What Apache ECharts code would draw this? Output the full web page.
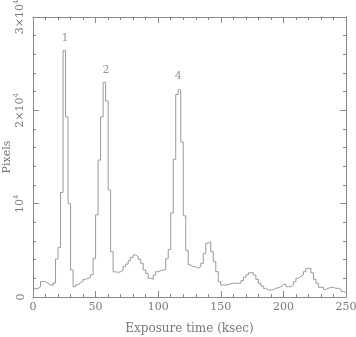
<!DOCTYPE html>
<html>
<head>
<meta charset="utf-8">
<script src="https://cdn.jsdelivr.net/npm/echarts@6/dist/echarts.min.js"></script>
<style>
  html, body { margin: 0; padding: 0; background: #fff; }
  #chart { width: 356px; height: 337px; }
</style>
</head>
<body>
<div id="chart"></div>
<script>
// histogram: 2 ksec bins starting at 0
const binWidth = 2
const counts = [
  900, 900, 1100, 1650, 1650, 1450, 1300, 1250, 1500, 4070,
  5320, 11200, 26400, 19300, 10000, 2890, 1100, 1320, 1530, 1680,
  1900, 2000, 2100, 2390, 4150, 8800, 14670, 19300, 23000, 21000,
  11460, 4850, 2700, 2640, 2710, 2890, 3250, 3530, 3890, 4250,
  4500, 4320, 4040, 3610, 2890, 2540, 2000, 1890, 2360, 2710,
  2820, 2890, 2950, 4100, 5100, 9000, 14750, 21700, 22200, 16600,
  8700, 5000, 3430, 3250, 3250, 3070, 3250, 3610, 4680, 5750,
  5920, 4850, 3780, 2710, 1640, 1290, 1290, 1350, 1400, 1470,
  1470, 1470, 1470, 1750, 2110, 2360, 2600, 2600, 2360, 1890,
  1470, 1180, 930, 750, 750, 800, 930, 1000, 1100, 1290,
  1390, 1100, 1100, 1290, 1640, 2000, 2200, 2360, 2710, 3070,
  3070, 2600, 1890, 1470, 1040, 1040, 820, 930, 1040, 1040,
  930, 930, 820, 600, 460
]
const peakNames = ['1', '2', '4']
const peakTimes = [25.6, 58.3, 116]
const peakValues = [27700, 24300, 23650]
const yTickLabels = ['0', '10{s|4}', '2×10{s|4}', '3×10{s|4}']

const ink = '#8a8a8a'
const textInk = '#7a7a7a'
const serif = 'DejaVu Serif'

let stepData = []
for (let i = 0; i < counts.length; i++) {
  stepData.push([i * binWidth, counts[i]])
}
stepData.push([counts.length * binWidth, counts[counts.length - 1]])

let peaks = []
for (let i = 0; i < peakNames.length; i++) {
  peaks.push({ name: peakNames[i], value: [peakTimes[i], peakValues[i]] })
}

function xAxisConf(show) {
  return {
    type: 'value', min: 0, max: 250, interval: 50,
    position: show ? 'bottom' : 'top',
    name: show ? 'Exposure time (ksec)' : '',
    nameLocation: 'middle', nameGap: 26, nameMoveOverlap: false,
    nameTextStyle: { color: textInk, fontFamily: serif, fontSize: 12 },
    axisLine: { show: true, onZero: false, lineStyle: { color: ink, width: 1 } },
    axisTick: { show: true, inside: true, length: 6, lineStyle: { color: ink } },
    minorTick: { show: true, splitNumber: 5, length: 3, lineStyle: { color: ink } },
    axisLabel: { show: show, margin: 5, color: textInk, fontFamily: serif, fontSize: 11 },
    splitLine: { show: false }
  }
}

function yAxisConf(show) {
  return {
    type: 'value', min: 0, max: 30000, interval: 10000,
    position: show ? 'left' : 'right',
    name: show ? 'Pixels' : '',
    nameLocation: 'middle', nameGap: 20, nameRotate: 90, nameMoveOverlap: false,
    nameTextStyle: { color: textInk, fontFamily: serif, fontSize: 11 },
    axisLine: { show: true, onZero: false, lineStyle: { color: ink, width: 1 } },
    axisTick: { show: true, inside: true, length: 6, lineStyle: { color: ink } },
    minorTick: { show: true, splitNumber: 5, length: 3, lineStyle: { color: ink } },
    axisLabel: {
      show: show, rotate: 90, margin: 6, color: textInk, fontFamily: serif, fontSize: 11,
      formatter: v => yTickLabels[Math.round(v / 10000)],
      rich: { s: { fontSize: 7, fontFamily: serif, color: textInk, padding: [0, 0, 7, 0] } }
    },
    splitLine: { show: false }
  }
}

let myChart = echarts.init(document.getElementById('chart'), null, { renderer: 'canvas' })
myChart.setOption({
  animation: false,
  backgroundColor: '#fff',
  grid: { left: 33, right: 10, top: 17, bottom: 40, containLabel: false, outerBoundsMode: 'none' },
  xAxis: [xAxisConf(true), xAxisConf(false)],
  yAxis: [yAxisConf(true), yAxisConf(false)],
  series: [
    {
      type: 'line',
      step: 'end',
      data: stepData,
      symbol: 'none',
      lineStyle: { color: '#9a9a9a', width: 1 }
    },
    {
      type: 'scatter',
      data: peaks,
      symbolSize: 0,
      label: {
        show: true, position: 'inside', formatter: '{b}',
        color: textInk, fontFamily: serif, fontSize: 11
      }
    }
  ]
})
</script>
</body>
</html>
